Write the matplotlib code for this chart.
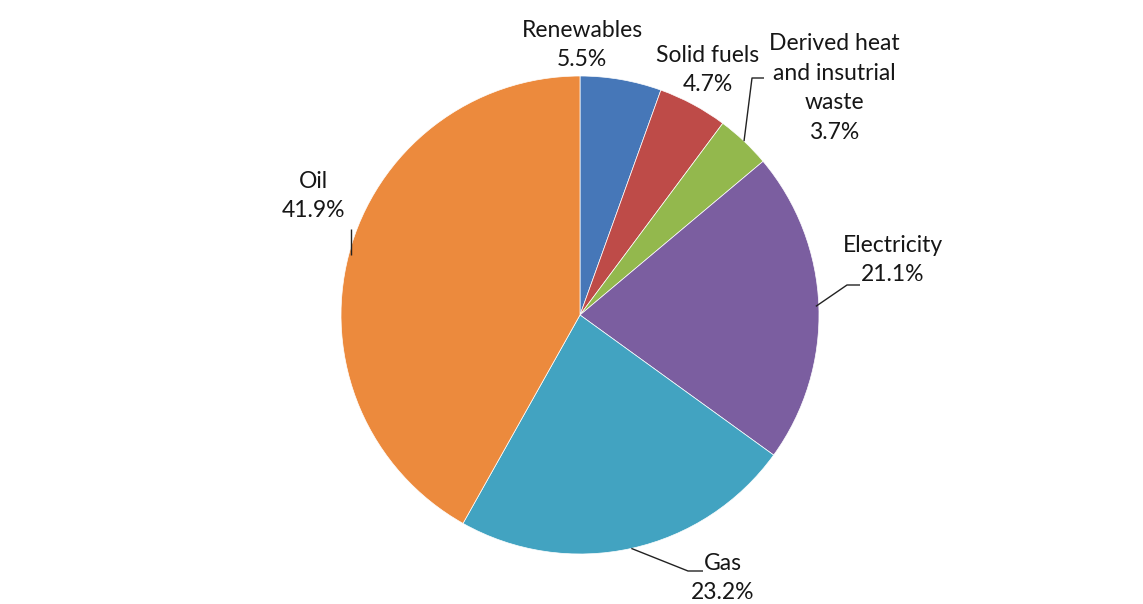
import numpy as np
import matplotlib
matplotlib.use("Agg")
import matplotlib.pyplot as plt

# Data (clockwise from 12 o'clock)
labels = ['Renewables', 'Solid fuels', 'Derived heat\nand insutrial\nwaste', 'Electricity', 'Gas', 'Oil']
shares = [5.5, 4.7, 3.7, 21.1, 23.2, 41.9]
colors = ['#4677B8', '#BE4B48', '#93B84D', '#7B5EA0', '#42A3C1', '#EC8A3D']

W, H = 1143, 604
plt.rcParams['font.family'] = ['Lato', 'DejaVu Sans']

fig = plt.figure(figsize=(W / 100, H / 100), dpi=100)
ax = fig.add_axes([0, 0, 1, 1])

cx, cy, r = 580, H - 315, 239
wedges, _ = ax.pie(shares, colors=colors, startangle=90, counterclock=False,
                   center=(cx, cy), radius=r,
                   wedgeprops=dict(edgecolor='white', linewidth=0.5))
ax.set_xlim(0, W)
ax.set_ylim(0, H)
ax.set_aspect('equal')
ax.axis('off')

txt = dict(fontsize=16.5, color='#161616', ha='center', va='center', linespacing=1.5)


def edge(i):
    w = wedges[i]
    a = np.deg2rad((w.theta1 + w.theta2) / 2)
    return cx + r * np.cos(a), cy + r * np.sin(a)


def label(i, x, y):
    ax.text(x, H - y, f'{labels[i]}\n{shares[i]:.1f}%', **txt)


def leader(pts):
    xs = [p[0] for p in pts]
    ys = [p[1] for p in pts]
    ax.plot(xs, ys, color='#222222', lw=1.0, solid_capstyle='butt')


# Renewables and solid fuels: no leader line
label(0, 582, 45)
label(1, 708, 70)

# Derived heat
label(2, 834, 88)
ex, ey = edge(2)
leader([(ex, ey), (752, H - 78), (764, H - 78)])

# Electricity
label(3, 893, 260)
ex, ey = edge(3)
leader([(ex - 3, ey), (847, H - 285), (860, H - 285)])

# Gas
label(4, 723, 578)
ex, ey = edge(4)
leader([(ex, ey), (688, H - 571), (703, H - 571)])

# Oil
label(5, 313, 196)
ex, ey = edge(5)
leader([(ex + 2, ey), (ex + 2, H - 229)])

fig.savefig('out.png', dpi=100, facecolor='white')
